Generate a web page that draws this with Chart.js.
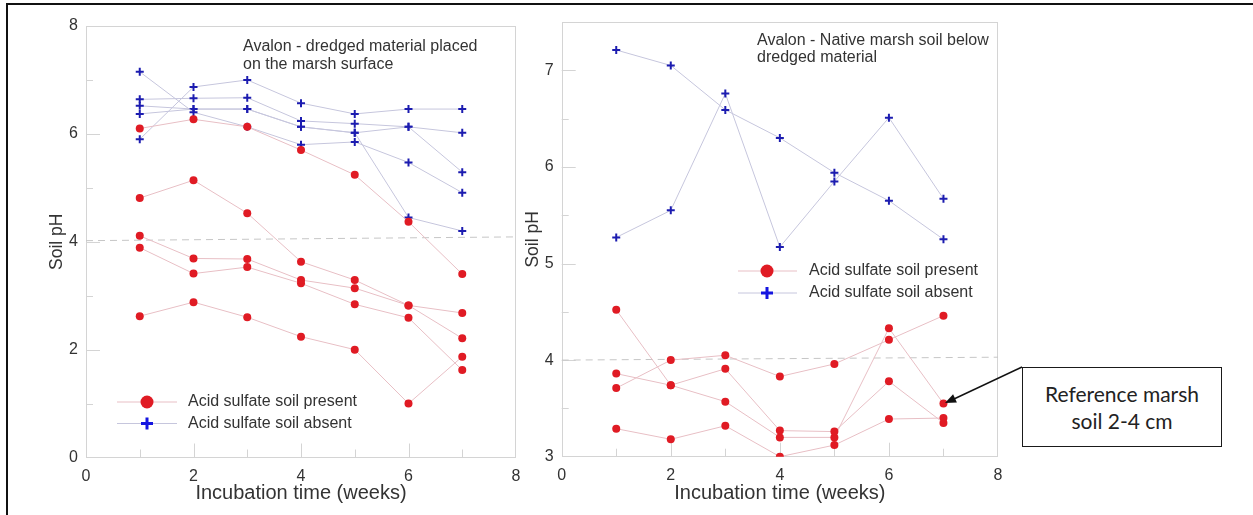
<!DOCTYPE html>
<html lang="en">
<head>
  <meta charset="UTF-8">
  <title>Avalon soil pH during incubation</title>
  <style>
    body {
      margin: 0;
      background: #fff;
      font-family: "Liberation Sans", Arial, sans-serif;
    }
    .page {
      position: relative;
      width: 1253px;
      height: 515px;
      overflow: hidden;
    }
    .outline {
      position: absolute;
      left: 6px;
      top: 3px;
      width: 1300px;
      height: 600px;
      border-top: 2px solid #111;
      border-left: 2px solid #111;
    }
    canvas {
      position: absolute;
      top: 0;
    }
    #left-chart { left: 0; }
    #right-chart { left: 520px; }
    .note {
      position: absolute;
      font-size: 16px;
      color: #333;
      white-space: nowrap;
    }
    .ref-box {
      position: absolute;
      left: 1022px;
      top: 367px;
      width: 200px;
      height: 80px;
      box-sizing: border-box;
      border: 1.5px solid #1a1a1a;
      background: #fff;
      font-family: Lato, "Open Sans", sans-serif;
      font-size: 21px;
      line-height: 27px;
      color: #222;
      text-align: center;
      display: flex;
      flex-direction: column;
      justify-content: center;
    }
    svg.overlay {
      position: absolute;
      left: 0;
      top: 0;
      pointer-events: none;
    }
  </style>
</head>
<body>
  <div class="page">
    <div class="outline"></div>
    <canvas id="left-chart" width="522" height="515"></canvas>
    <canvas id="right-chart" width="484" height="515"></canvas>
    <div class="note" style="left:243px; top:37px; line-height:18px;">Avalon - dredged material placed<br>on the marsh surface</div>
    <div class="note" style="left:757px; top:31px; line-height:17px;">Avalon - Native marsh soil below<br>dredged material</div>
    <div class="ref-box"><div>Reference marsh</div><div>soil 2-4 cm</div></div>
    <svg class="overlay" width="1253" height="515">
      <line x1="1022" y1="367" x2="954" y2="399" stroke="#111" stroke-width="1.5"/>
      <polygon points="945,403 956.9,402.4 953.1,394.3" fill="#111"/>
    </svg>
  </div>

  <script src="https://cdn.jsdelivr.net/npm/chart.js"></script>
  <script>
    const WEEKS = [1, 2, 3, 4, 5, 6, 7];
    const THRESHOLD_X = [0, 8];

    // dredged material placed on the marsh surface
    const leftPresent1 = [6.10, 6.27, 6.13, 5.70, 5.24, 4.37, 3.40];
    const leftPresent2 = [4.81, 5.14, 4.53, 3.63, 3.29, 2.82, 2.21];
    const leftPresent3 = [4.11, 3.69, 3.68, 3.29, 3.14, 2.82, 2.68];
    const leftPresent4 = [3.89, 3.41, 3.53, 3.23, 2.84, 2.59, 1.62];
    const leftPresent5 = [2.62, 2.88, 2.60, 2.24, 2.00, 1.00, 1.87];
    const leftAbsent1 = [7.15, 6.40, 6.13, 5.80, 5.85, 5.47, 4.91];
    const leftAbsent2 = [5.90, 6.87, 7.00, 6.57, 6.37, 6.46, 6.46];
    const leftAbsent3 = [6.64, 6.66, 6.67, 6.24, 6.19, 6.13, 6.02];
    const leftAbsent4 = [6.52, 6.46, 6.46, 6.13, 6.02, 6.13, 5.29];
    const leftAbsent5 = [6.37, 6.46, 6.46, 6.13, 6.02, 4.45, 4.20];
    const leftThreshold = [4.02, 4.09];

    // native marsh soil below dredged material
    const rightPresent1 = [3.71, 4.00, 4.05, 3.83, 3.96, 4.21, 4.46];
    const rightPresent2 = [4.52, 3.74, 3.91, 3.27, 3.26, 3.78, 3.35];
    const rightPresent3 = [3.86, 3.74, 3.57, 3.20, 3.20, 4.33, 3.55];
    const rightPresent4 = [3.29, 3.18, 3.32, 3.00, 3.12, 3.39, 3.40];
    const rightAbsent1 = [7.21, 7.05, 6.59, 6.30, 5.94, 5.65, 5.25];
    const rightAbsent2 = [5.27, 5.55, 6.76, 5.17, 5.85, 6.51, 5.67];
    const rightThreshold = [4.00, 4.03];

    const LEGEND_LABELS = ['Acid sulfate soil present', 'Acid sulfate soil absent'];

    const RED = '#e01b24';
    const RED_LINE = '#e8bfc5';
    const BLUE = '#1c1cb0';
    const BLUE_LINE = '#c6c6dd';
    const TEXT = '#333';

    Chart.defaults.font.family = '"Liberation Sans", Arial, sans-serif';

    function toPoints(xs, ys) {
      return ys.map((y, i) => ({ x: xs[i], y }));
    }

    function buildDatasets(present, absent, threshold) {
      const datasets = [];
      for (const values of present) {
        datasets.push({
          data: toPoints(WEEKS, values),
          borderColor: RED_LINE,
          borderWidth: 1,
          pointStyle: 'circle',
          pointRadius: 4,
          pointBackgroundColor: RED,
          pointBorderColor: RED,
          pointBorderWidth: 0
        });
      }
      for (const values of absent) {
        datasets.push({
          data: toPoints(WEEKS, values),
          borderColor: BLUE_LINE,
          borderWidth: 1,
          pointStyle: 'cross',
          pointRadius: 4,
          pointBorderColor: BLUE,
          pointBorderWidth: 2
        });
      }
      datasets.push({
        data: toPoints(THRESHOLD_X, threshold),
        borderColor: '#c6c6c6',
        borderWidth: 1,
        borderDash: [7, 5],
        pointRadius: 0
      });
      return datasets;
    }

    function isMajor(v, major) {
      const r = v / major;
      return Math.abs(r - Math.round(r)) < 1e-6;
    }

    const decorPlugin = {
      id: 'decor',
      beforeDatasetsDraw(chart, args, o) {
        const { ctx, chartArea: a, scales: { x, y } } = chart;
        ctx.save();
        ctx.strokeStyle = '#d4d4d4';
        ctx.lineWidth = 1;
        ctx.strokeRect(Math.round(a.left) + .5, Math.round(a.top) + .5,
          Math.round(a.width) - 1, Math.round(a.height) - 1);
        ctx.beginPath();
        for (let v = x.min + o.xStep; v < x.max - 1e-6; v += o.xStep) {
          const px = Math.round(x.getPixelForValue(v)) + .5;
          const len = isMajor(v, o.xMajor) ? 14 : 8;
          ctx.moveTo(px, a.bottom);
          ctx.lineTo(px, a.bottom - len);
        }
        for (let v = y.min + o.yStep; v < y.max - 1e-6; v += o.yStep) {
          const py = Math.round(y.getPixelForValue(v)) + .5;
          const len = isMajor(v, o.yMajor) ? 14 : 7;
          ctx.moveTo(a.left, py);
          ctx.lineTo(a.left + len, py);
        }
        ctx.stroke();
        ctx.restore();
      },
      afterDraw(chart, args, o) {
        const { ctx } = chart;
        const L = o.legend;
        ctx.save();
        LEGEND_LABELS.forEach((label, i) => {
          const yy = L.y + i * L.gap;
          ctx.strokeStyle = i === 0 ? RED_LINE : BLUE_LINE;
          ctx.lineWidth = 1;
          ctx.beginPath();
          ctx.moveTo(L.lineFrom, yy);
          ctx.lineTo(L.lineTo, yy);
          ctx.stroke();
          if (i === 0) {
            ctx.fillStyle = RED;
            ctx.beginPath();
            ctx.arc(L.marker, yy, 6.5, 0, Math.PI * 2);
            ctx.fill();
          } else {
            ctx.strokeStyle = '#1515e0';
            ctx.lineWidth = 3;
            ctx.beginPath();
            ctx.moveTo(L.marker - 6, yy);
            ctx.lineTo(L.marker + 6, yy);
            ctx.moveTo(L.marker, yy - 6);
            ctx.lineTo(L.marker, yy + 6);
            ctx.stroke();
          }
          ctx.fillStyle = TEXT;
          ctx.font = '16px "Liberation Sans", Arial, sans-serif';
          ctx.textBaseline = 'middle';
          ctx.fillText(label, L.text, yy);
        });
        ctx.restore();
      }
    };

    function makeChart(id, cfg) {
      return new Chart(document.getElementById(id), {
        type: 'line',
        data: { datasets: cfg.datasets },
        plugins: [decorPlugin],
        options: {
          responsive: false,
          animation: false,
          events: [],
          layout: { padding: cfg.padding },
          plugins: {
            legend: { display: false },
            tooltip: { enabled: false },
            decor: cfg.decor
          },
          scales: {
            x: {
              type: 'linear',
              min: 0,
              max: 8,
              grid: { display: false, drawTicks: false },
              border: { display: false },
              ticks: { stepSize: 2, padding: 9, color: TEXT, font: { size: 16 } },
              title: {
                display: true,
                text: 'Incubation time (weeks)',
                color: TEXT,
                font: { size: 20 },
                padding: { top: 0, bottom: 10 }
              },
              afterFit: (s) => {
                s.height = cfg.xHeight;
                s.paddingLeft = 0;
                s.paddingRight = 0;
              }
            },
            y: {
              type: 'linear',
              min: cfg.yMin,
              max: cfg.yMax,
              grid: { display: false, drawTicks: false },
              border: { display: false },
              ticks: { stepSize: cfg.yStep, padding: 8, color: TEXT, font: { size: 16 } },
              afterBuildTicks: (s) => {
                s.ticks = s.ticks.filter(t => isMajor(t.value, cfg.yStep));
              },
              title: {
                display: true,
                text: 'Soil pH',
                color: TEXT,
                font: { size: 17.5 },
                padding: { top: cfg.yTitlePad, bottom: 0 }
              },
              afterFit: (s) => {
                s.width = cfg.yWidth;
                s.paddingTop = 0;
                s.paddingBottom = 0;
              }
            }
          }
        }
      });
    }

    makeChart('left-chart', {
      datasets: buildDatasets(
        [leftPresent1, leftPresent2, leftPresent3, leftPresent4, leftPresent5],
        [leftAbsent1, leftAbsent2, leftAbsent3, leftAbsent4, leftAbsent5],
        leftThreshold),
      padding: { top: 26, right: 0, left: 0, bottom: 0 },
      xHeight: 57.5,
      yWidth: 86,
      yMin: 0,
      yMax: 8,
      yStep: 2,
      yTitlePad: 47,
      decor: {
        xStep: 1, xMajor: 2, yStep: 1, yMajor: 2,
        legend: { y: 402, gap: 21.5, lineFrom: 117, lineTo: 177, marker: 147, text: 188 }
      }
    });

    makeChart('right-chart', {
      datasets: buildDatasets(
        [rightPresent1, rightPresent2, rightPresent3, rightPresent4],
        [rightAbsent1, rightAbsent2],
        rightThreshold),
      padding: { top: 22, right: 0, left: 0, bottom: 0 },
      xHeight: 58.3,
      yWidth: 41.7,
      yMin: 3,
      yMax: 7.5,
      yStep: 1,
      yTitlePad: 3,
      decor: {
        xStep: 1, xMajor: 2, yStep: 0.5, yMajor: 1,
        legend: { y: 271, gap: 22, lineFrom: 218, lineTo: 277, marker: 247, text: 289 }
      }
    });
  </script>
</body>
</html>
